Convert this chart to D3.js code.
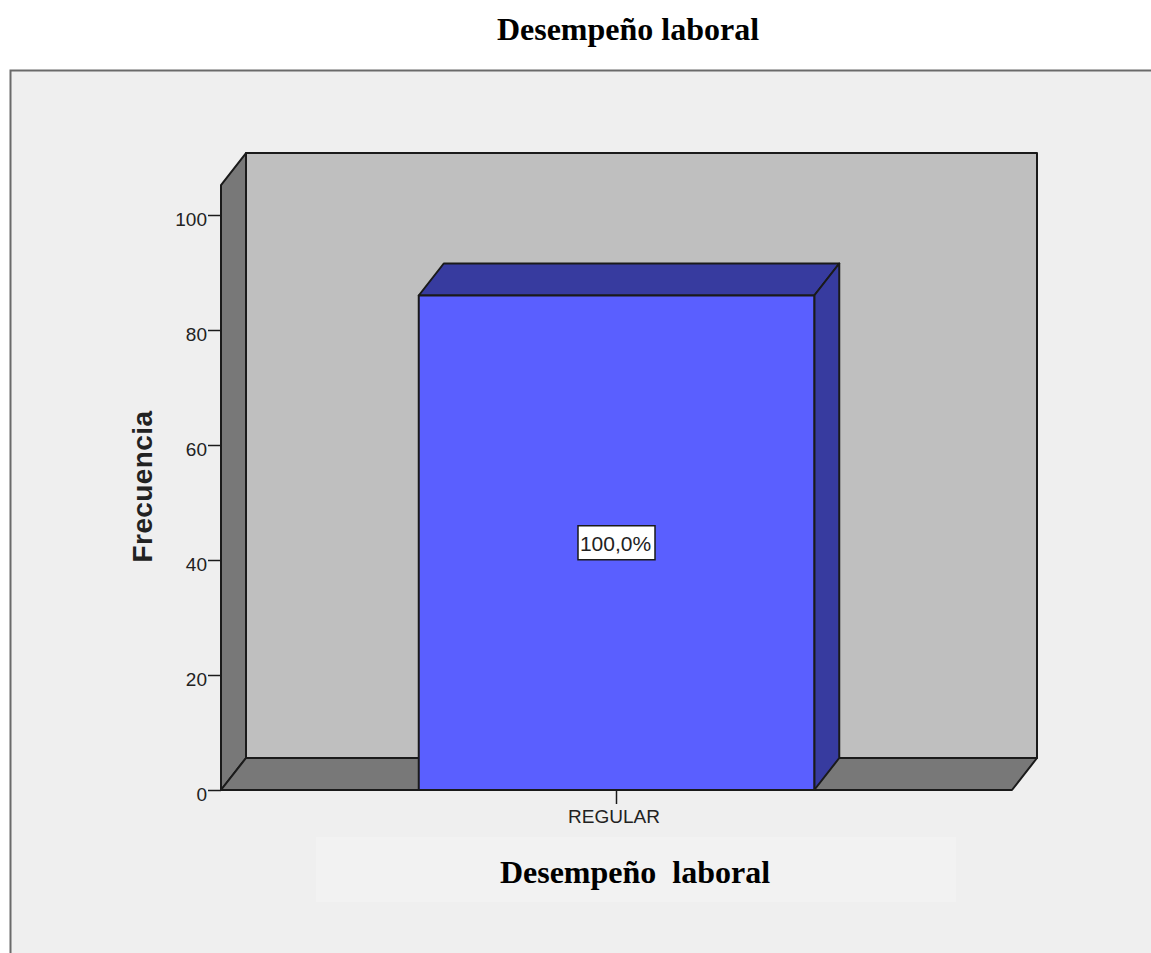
<!DOCTYPE html>
<html>
<head>
<meta charset="utf-8">
<script src="https://cdn.jsdelivr.net/npm/d3@7"></script>
<style>
    html, body { margin: 0; padding: 0; background: #fff; }
    svg { display: block; }
    .tick text { font-family: "Liberation Sans", sans-serif; font-size: 19px; fill: #222; }
</style>
</head>
<body>
<div id="chart"></div>
<script>
// Values
const categories = ["REGULAR"];
const frequencies = [86];
const barLabels = ["100,0%"];
const yTicks = [0, 20, 40, 60, 80, 100];
const yTop = 105.2;
const chartTitle = "Desempeño laboral";
const xTitle = "Desempeño\u00a0\u00a0laboral";
const yTitle = "Frecuencia";

const width = 1151, height = 953;
const line = "#1a1a1a";

// 3D depth of the box
const dx = 25, dy = -32;

const svg = d3.select("#chart").append("svg")
    .attr("width", width)
    .attr("height", height);

// Panel
svg.append("rect")
    .attr("x", 10.5)
    .attr("y", 70.5)
    .attr("width", width)
    .attr("height", height)
    .attr("fill", "#efefef")
    .attr("stroke", "#6a6a6a")
    .attr("stroke-width", 2);

// Scales
let xScale = d3.scaleBand()
    .domain(categories)
    .range([221, 1012])
    .paddingInner(0.5)
    .paddingOuter(0.25);
let yScale = d3.scaleLinear()
    .domain([0, 100])
    .range([790, 215]);

let x0 = xScale.range()[0], x1 = xScale.range()[1];
let y0 = yScale(0), y1 = yScale(yTop);

function poly(points, fill)
{
    return svg.append("polygon")
        .attr("points", points.map(p => p.join(",")).join(" "))
        .attr("fill", fill)
        .attr("stroke", line)
        .attr("stroke-width", 2)
        .attr("stroke-linejoin", "round");
}

// Back wall, side wall, floor
poly([[x0 + dx, y1 + dy], [x1 + dx, y1 + dy], [x1 + dx, y0 + dy], [x0 + dx, y0 + dy]], "#bfbfbf");
poly([[x0, y1], [x0 + dx, y1 + dy], [x0 + dx, y0 + dy], [x0, y0]], "#787878");
poly([[x0, y0], [x0 + dx, y0 + dy], [x1 + dx, y0 + dy], [x1, y0]], "#787878");

// Axis
let yAxis = d3.axisLeft(yScale).tickValues(yTicks).tickSize(13).tickPadding(1).tickFormat(d3.format("d"));
let yG = svg.append("g")
    .attr("transform", "translate(" + x0 + ",0)")
    .call(yAxis);
yG.select(".domain").remove();
yG.selectAll(".tick line").attr("stroke", line).attr("stroke-width", 1.5);
yG.selectAll(".tick text").attr("y", 4);

// Bars
categories.forEach((c, i) =>
{
    let left = xScale(c), right = left + xScale.bandwidth();
    let top = yScale(frequencies[i]);

    poly([[left, top], [left + dx, top + dy], [right + dx, top + dy], [right, top]], "#373b9f");
    poly([[right, top], [right + dx, top + dy], [right + dx, y0 + dy], [right, y0]], "#373b9f");
    poly([[left, top], [right, top], [right, y0], [left, y0]], "#5a5fff");

    // Percent label
    let cx = (left + right) / 2;
    let cy = (top + y0) / 2;
    svg.append("rect")
        .attr("x", cx - 38.5)
        .attr("y", cy - 17)
        .attr("width", 77)
        .attr("height", 34)
        .attr("fill", "#fff")
        .attr("stroke", line)
        .attr("stroke-width", 1.5);
    svg.append("text")
        .attr("x", cx - 1)
        .attr("y", cy + 8)
        .attr("text-anchor", "middle")
        .attr("font-family", "Liberation Sans, sans-serif")
        .attr("font-size", 21)
        .attr("fill", "#222")
        .text(barLabels[i]);

    // Category tick and label
    svg.append("line")
        .attr("x1", cx).attr("x2", cx)
        .attr("y1", y0).attr("y2", y0 + 14)
        .attr("stroke", line)
        .attr("stroke-width", 1.5);
    svg.append("text")
        .attr("x", cx - 2.5)
        .attr("y", 823)
        .attr("text-anchor", "middle")
        .attr("font-family", "Liberation Sans, sans-serif")
        .attr("font-size", 19)
        .attr("fill", "#222")
        .text(c);
});

// Y title
svg.append("text")
    .attr("transform", "translate(152,486.5) rotate(-90)")
    .attr("text-anchor", "middle")
    .attr("font-family", "Liberation Sans, sans-serif")
    .attr("font-size", 28)
    .attr("font-weight", "bold")
    .attr("letter-spacing", 0.4)
    .attr("fill", "#222")
    .text(yTitle);

// X title on its pale box
svg.append("rect")
    .attr("x", 316)
    .attr("y", 837)
    .attr("width", 640)
    .attr("height", 65)
    .attr("fill", "#f2f2f2");
svg.append("text")
    .attr("x", 635)
    .attr("y", 883)
    .attr("text-anchor", "middle")
    .attr("font-family", "Liberation Serif, serif")
    .attr("font-size", 32)
    .attr("font-weight", "bold")
    .attr("fill", "#000")
    .text(xTitle);

// Title
svg.append("text")
    .attr("x", 628)
    .attr("y", 40)
    .attr("text-anchor", "middle")
    .attr("font-family", "Liberation Serif, serif")
    .attr("font-size", 32)
    .attr("font-weight", "bold")
    .attr("fill", "#000")
    .text(chartTitle);
</script>
</body>
</html>
